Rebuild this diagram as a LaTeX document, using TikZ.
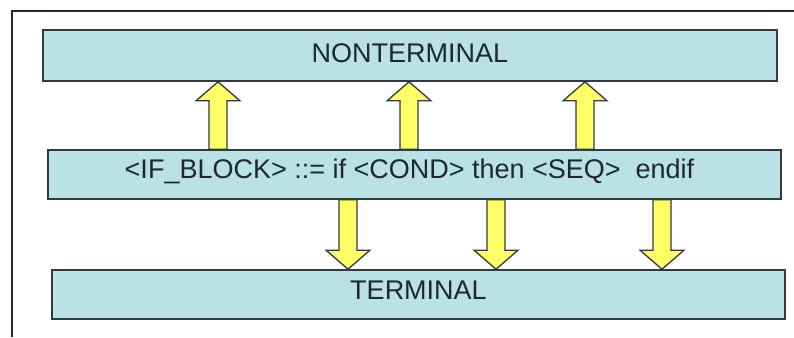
\documentclass[tikz,border=0pt]{standalone}
\usepackage{fontspec}
\setmainfont{Liberation Sans}
\usetikzlibrary{calc}

\definecolor{boxcyan}{RGB}{186,225,229}
\definecolor{boxline}{RGB}{52,58,60}
\definecolor{boxtext}{RGB}{30,40,50}
\definecolor{arrowyellow}{RGB}{255,255,102}

% fat arrow at x=#1 from anchor #2 to anchor #3
\newcommand{\fatarrow}[3]{%
  \draw[fat] let \p1=(#2), \p2=(#3), \n1={sign(\y2-\y1)} in
    ({#1pt-9pt},\y1) -- ({#1pt-9pt},\y2-19pt*\n1) -- ({#1pt-22pt},\y2-19pt*\n1)
    -- ({#1pt},\y2) -- ({#1pt+22pt},\y2-19pt*\n1) -- ({#1pt+9pt},\y2-19pt*\n1)
    -- ({#1pt+9pt},\y1) -- cycle;}

\begin{document}
\begin{tikzpicture}[x=1pt,y=-1pt
% Box style
    , rule/.style={rectangle
                  , fill=boxcyan
                  , draw=boxline, line width=1.6pt
                  , minimum height=49pt
                  , text=boxtext
                  , font=\fontsize{27}{31}\selectfont
                  , text height=19.5pt
                  , inner sep=0pt}
% Arrow and frame style
    , fat/.style={fill=arrowyellow
                 , draw=boxline, line width=1.3pt
                 , line join=miter}
    , frame/.style={draw=black!85, line width=1.8pt}
  ]
  \useasboundingbox (0,0) rectangle (794,337);
  \draw[frame] (12,337) -- (12,11) -- (794,11);

%% Draw the three levels
  \node [rule, minimum width=734pt, minimum height=51pt, text depth=5pt] (nonterm) at (410,55.5) {NONTERMINAL};
  \node [rule, minimum width=733pt, text depth=11pt] (ifblock) at (414.5,174.5)
    {<IF\_BLOCK> ::= if <COND> then <SEQ>\ \ endif\hspace*{10pt}};
  \node [rule, minimum width=733pt, text depth=9pt] (term) at (418.5,294.5) {TERMINAL};

%% Arrows up and down
  \foreach \ax in {218,409,585}
    \fatarrow{\ax}{ifblock.north}{nonterm.south};
  \foreach \ax in {348,496,662}
    \fatarrow{\ax}{ifblock.south}{term.north};
\end{tikzpicture}
\end{document}
